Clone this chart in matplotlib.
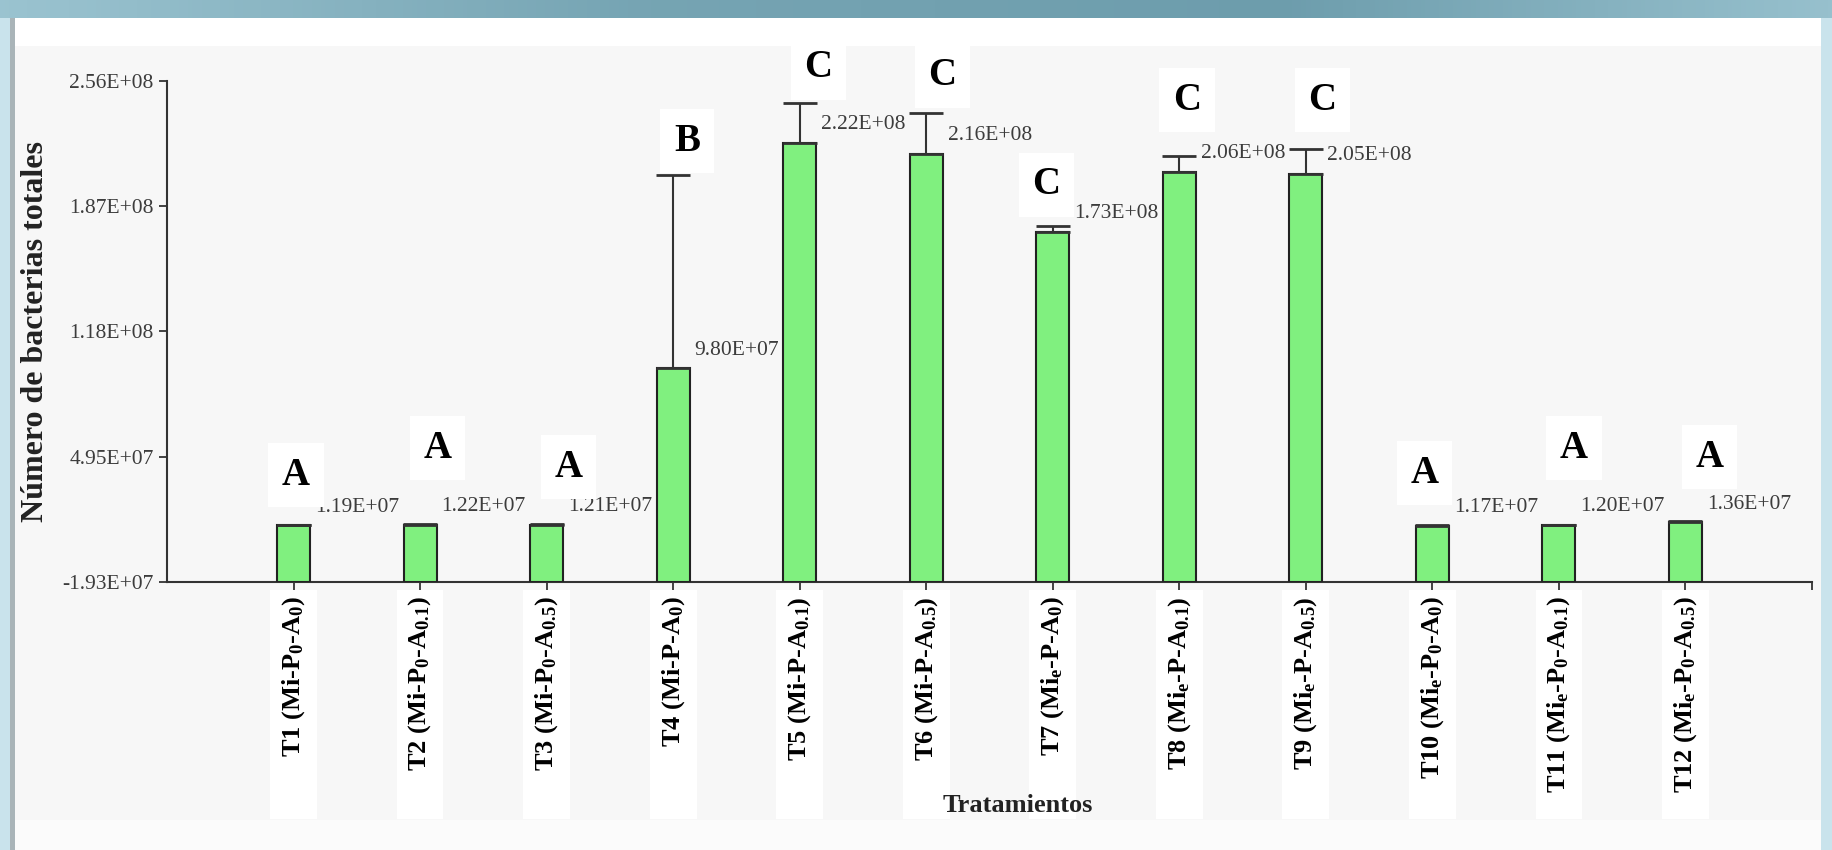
import matplotlib
matplotlib.use("Agg")
import matplotlib.pyplot as plt
import matplotlib.transforms as mtransforms
from matplotlib.patches import Rectangle
import numpy as np

plt.rcParams['font.family'] = ['Liberation Serif', 'DejaVu Serif']
plt.rcParams['mathtext.fontset'] = 'custom'
plt.rcParams['mathtext.default'] = 'regular'

# data
treatments = [
    'T1 (Mi-P$_0$-A$_0$)', 'T2 (Mi-P$_0$-A$_{0.1}$)', 'T3 (Mi-P$_0$-A$_{0.5}$)',
    'T4 (Mi-P-A$_0$)', 'T5 (Mi-P-A$_{0.1}$)', 'T6 (Mi-P-A$_{0.5}$)',
    'T7 (Mi$_e$-P-A$_0$)', 'T8 (Mi$_e$-P-A$_{0.1}$)', 'T9 (Mi$_e$-P-A$_{0.5}$)',
    'T10 (Mi$_e$-P$_0$-A$_0$)', 'T11 (Mi$_e$-P$_0$-A$_{0.1}$)', 'T12 (Mi$_e$-P$_0$-A$_{0.5}$)',
]
bacterias = [1.19e7, 1.22e7, 1.21e7, 9.80e7, 2.22e8, 2.16e8,
             1.73e8, 2.06e8, 2.05e8, 1.17e7, 1.20e7, 1.36e7]
err_up = [2e5, 5e5, 5e5, 1.06e8, 2.2e7, 2.25e7,
          3.5e6, 8.5e6, 1.35e7, 2e5, 2e5, 8e5]
groups = ['A', 'A', 'A', 'B', 'C', 'C', 'C', 'C', 'C', 'A', 'A', 'A']
yticks = [-1.93e7, 4.95e7, 1.183e8, 1.871e8, 2.559e8]

# where the letter boxes sit (x offset from tick, y in axes fraction)
letter_dx = [0.02, 0.14, 0.17, 0.11, 0.15, 0.13, -0.05, 0.06, 0.13, -0.06, 0.12, 0.19]
letter_y = [0.213, 0.267, 0.229, 0.880, 1.026, 1.010, 0.793, 0.962, 0.962, 0.217, 0.267, 0.249]

W, H = 1833, 850
fig = plt.figure(figsize=(W / 100, H / 100), dpi=100, facecolor='#c9e3ec')

# slide-like frame behind the chart
bg = fig.add_axes([0, 0, 1, 1], zorder=-5)
bg.set_xlim(0, W)
bg.set_ylim(H, 0)
bg.axis('off')
grad = np.linspace(0, 1, 400)
strip = np.interp(grad, [0, 0.35, 0.7, 1], [0.75, 0.45, 0.38, 0.72])
cmap = matplotlib.colors.LinearSegmentedColormap.from_list('s', ['#3f7688', '#b9dde8'])
bg.imshow(strip[None, :], cmap=cmap, vmin=0, vmax=1, extent=[0, W, 18, 0], aspect='auto')
bg.add_patch(Rectangle((10, 18), 5, H, color='#a9b4b8', lw=0))
bg.add_patch(Rectangle((15, 18), 1806, H, color='#f7f7f7', lw=0))
bg.add_patch(Rectangle((15, 18), 1806, 28, color='#ffffff', lw=0))
bg.add_patch(Rectangle((15, 820), 1806, 30, color='#fbfbfb', lw=0))

ax = fig.add_axes([167 / W, 1 - 582 / H, 1645 / W, (582 - 81) / H])
ax.set_facecolor('none')

x = np.arange(len(bacterias))
base = yticks[0]
vals = np.array(bacterias)
ax.bar(x, vals - base, bottom=base, width=0.26, color='#80f07f',
       edgecolor='#222222', linewidth=1.5, zorder=3)
ax.errorbar(x, vals, yerr=[np.zeros(len(vals)), err_up], fmt='none',
            ecolor='#333333', elinewidth=1.5, capsize=12, capthick=2, zorder=4)

for xi, v in zip(x, vals):
    ax.annotate(f'{v:.2E}', (xi, v), xytext=(15.5, 13), textcoords='offset points',
                ha='left', va='center', fontsize=15.5, color='#3c3c3c', zorder=5)

trans = mtransforms.blended_transform_factory(ax.transData, ax.transAxes)
for xi, g, dx, ly in zip(x, groups, letter_dx, letter_y):
    ax.text(xi + dx, ly, g, transform=trans, ha='center', va='center',
            fontsize=28, fontweight='bold', color='black', zorder=6, clip_on=False,
            bbox=dict(boxstyle='square,pad=0.35', fc='white', ec='none'))
    ax.add_patch(Rectangle((xi - 0.185, -0.474), 0.37, 0.458, transform=trans,
                           fc='white', ec='none', clip_on=False, zorder=0.5))

ax.set_xlim(-1, 12)
ax.set_ylim(yticks[0], yticks[-1])
ax.set_xticks(x)
ax.set_xticklabels(treatments, rotation=90, fontsize=19, fontweight='bold')
ax.set_xticks([12], minor=True)
ax.set_yticks(yticks)
ax.set_yticklabels([f'{t:.2E}' for t in yticks], fontsize=15.5, color='#3c3c3c')
ax.tick_params(axis='both', which='both', direction='out', length=6, width=1.3, color='#333333')
ax.tick_params(axis='x', pad=4)

for s in ['top', 'right']:
    ax.spines[s].set_visible(False)
for s in ['left', 'bottom']:
    ax.spines[s].set_color('#333333')
    ax.spines[s].set_linewidth(1.5)

ax.set_ylabel('Número de bacterias totales', fontsize=23, fontweight='bold', color='#222222')
ax.yaxis.set_label_coords(-0.071, 0.5)
ax.set_xlabel('Tratamientos', fontsize=19, fontweight='bold', color='#222222')
ax.xaxis.set_label_coords(0.517, -0.424)

fig.savefig('out.png', dpi=100, facecolor=fig.get_facecolor())
